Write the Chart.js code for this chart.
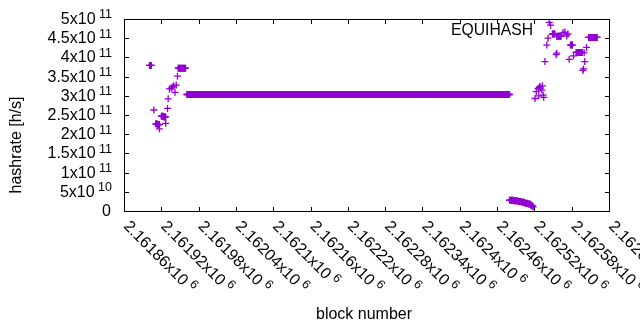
<!DOCTYPE html>
<html><head><meta charset="utf-8">
<script src="https://cdn.jsdelivr.net/npm/chart.js@4/dist/chart.umd.min.js"></script>
<style>html,body{margin:0;padding:0;background:#fff;}#wrap{width:640px;height:330px;position:relative;}</style>
</head><body><div id="wrap"><canvas id="c" width="640" height="330"></canvas></div>
<script>
const seriesName = 'EQUIHASH';
const seriesColor = '#9400d3';

// isolated measurements (block number, hashrate h/s)
const pointBlocks = [2161908,2161917,2161927,2161930,2161931,2161933,2161936,2161938,2161940,2161942,2161944,2161946,
  2162521,2162523,2162526,2162527,2162528,2162529,2162530,2162532,2162533,2162534,2162535,
  2162537,2162540,2162542,2162544,2162546,2162555,2162556,2162566,2162569,2162572,2162574,2162576,2162583,
  2162598,2162599,2162600,2162601,2162604];
const pointHashrates = [2.63e11,2.14e11,2.28e11,2.67e11,2.92e11,3.18e11,3.20e11,3.23e11,3.26e11,3.09e11,3.28e11,3.51e11,
  2.93e11,3.11e11,3.19e11,3.00e11,3.22e11,3.24e11,3.20e11,3.15e11,3.26e11,3.02e11,2.96e11,
  3.89e11,4.32e11,4.50e11,4.91e11,4.84e11,4.07e11,4.11e11,4.64e11,4.66e11,4.56e11,4.61e11,3.95e11,4.04e11,
  3.66e11,3.70e11,4.12e11,3.89e11,4.26e11];

// runs of consecutive blocks reporting the same hashrate
const runStartBlocks = [2161901,2161911,2161914,2161920,2161924,2161947,2161961,
  2162480,2162487,2162494,2162500,2162505,2162510,2162514,2162516,2162518,
  2162549,2162556,2162578,2162587,2162607];
const runEndBlocks = [2161904,2161913,2161917,2161923,2161927,2161959,2162480,
  2162486,2162493,2162499,2162504,2162509,2162513,2162515,2162517,2162518,
  2162553,2162563,2162581,2162597,2162621];
const runHashrates = [3.79e11,2.27e11,2.25e11,2.47e11,2.45e11,3.72e11,3.034e11,
  2.8e10,2.65e10,2.45e10,2.25e10,2.05e10,1.8e10,1.55e10,1.3e10,1.1e10,
  4.61e11,4.55e11,4.32e11,4.13e11,4.52e11];

const xTickValues = [2161860,2161920,2161980,2162040,2162100,2162160,2162220,2162280,2162340,2162400,2162460,2162520,2162580,2162640];
const xTickLabels = ['2.16186','2.16192','2.16198','2.16204','2.1621','2.16216','2.16222','2.16228','2.16234','2.1624','2.16246','2.16252','2.16258','2.16264'];
const xTickExponent = '6';
const yTickValues = [0,5e10,1e11,1.5e11,2e11,2.5e11,3e11,3.5e11,4e11,4.5e11,5e11];
const yTickMantissas = ['0','5','1','1.5','2','2.5','3','3.5','4','4.5','5'];
const yTickExponents = ['','10','11','11','11','11','11','11','11','11','11'];

// build point table
const pts = [];
runStartBlocks.forEach((s, i) => {
  for (let b = s; b <= runEndBlocks[i]; b++) pts.push({x: b, y: runHashrates[i]});
});
pointBlocks.forEach((b, i) => pts.push({x: b, y: pointHashrates[i]}));

const FONT = '"Liberation Sans", Arial, sans-serif';

const gnuAxes = {
  id: 'gnuAxes',
  afterDatasetsDraw(chart) {
    const ctx = chart.ctx, a = chart.chartArea, xs = chart.scales.x, ys = chart.scales.y;
    ctx.save();
    ctx.strokeStyle = '#000';
    ctx.lineWidth = 1;
    const L = Math.round(a.left), R = Math.round(a.right), T = Math.round(a.top), B = Math.round(a.bottom);
    ctx.strokeRect(L + 0.5, T + 0.5, R - L, B - T);
    ctx.beginPath();
    xTickValues.forEach(v => {
      const x = Math.round(xs.getPixelForValue(v)) + 0.5;
      ctx.moveTo(x, B); ctx.lineTo(x, B - 4);
      ctx.moveTo(x, T); ctx.lineTo(x, T + 5);
    });
    yTickValues.forEach(v => {
      const y = Math.round(ys.getPixelForValue(v)) + 0.5;
      ctx.moveTo(L, y); ctx.lineTo(L + 5, y);
      ctx.moveTo(R, y); ctx.lineTo(R - 4, y);
    });
    ctx.stroke();

    ctx.fillStyle = '#000';
    // y tick labels
    yTickValues.forEach((v, i) => {
      const y = ys.getPixelForValue(v);
      const exp = yTickExponents[i];
      ctx.textBaseline = 'middle';
      if (!exp) {
        ctx.font = '16px ' + FONT; ctx.textAlign = 'right';
        ctx.fillText(yTickMantissas[i], 111, y + 0.5);
        return;
      }
      ctx.font = '12.5px ' + FONT;
      const sw = ctx.measureText(exp).width;
      ctx.textAlign = 'left';
      ctx.fillText(exp, 112 - sw, y - 4);
      ctx.font = '16px ' + FONT; ctx.textAlign = 'right';
      ctx.fillText(yTickMantissas[i] + 'x10', 112 - sw - 3.5, y + 0.5);
    });
    // x tick labels, rotated
    xTickValues.forEach((v, i) => {
      const x = xs.getPixelForValue(v);
      ctx.save();
      ctx.translate(x + 2, 224);
      ctx.rotate(Math.PI / 4);
      ctx.textBaseline = 'middle'; ctx.textAlign = 'left';
      ctx.font = '16px ' + FONT;
      const txt = xTickLabels[i] + 'x10';
      ctx.fillText(txt, 0, 0);
      const w = ctx.measureText(txt).width;
      ctx.font = '12.5px ' + FONT;
      ctx.fillText(xTickExponent, w + 4, -5);
      ctx.restore();
    });
    // axis titles
    ctx.font = '16px ' + FONT;
    ctx.textAlign = 'center'; ctx.textBaseline = 'middle';
    ctx.fillText('block number', 364, 315);
    ctx.save();
    ctx.translate(17, 145);
    ctx.rotate(-Math.PI / 2);
    ctx.fillText('hashrate [h/s]', 0, 0);
    ctx.restore();
    // key
    ctx.textAlign = 'right';
    ctx.font = '15.7px ' + FONT;
    ctx.fillText(seriesName, 533, 31);
    ctx.restore();
  }
};

new Chart(document.getElementById('c'), {
  type: 'scatter',
  data: { datasets: [{
    label: seriesName,
    data: pts,
    pointStyle: 'cross',
    pointRadius: 3.5,
    pointBorderWidth: 1.3,
    borderColor: seriesColor,
    backgroundColor: seriesColor,
    showLine: false
  }]},
  options: {
    responsive: false,
    animation: false,
    devicePixelRatio: 1,
    events: [],
    layout: { padding: { left: 124, right: 31, top: 19, bottom: 119 } },
    plugins: { legend: { display: false }, tooltip: { enabled: false } },
    scales: {
      x: { type: 'linear', display: false, min: 2161860, max: 2162640 },
      y: { type: 'linear', display: false, min: 0, max: 5e11 }
    }
  },
  plugins: [gnuAxes]
});
</script>
</body></html>
